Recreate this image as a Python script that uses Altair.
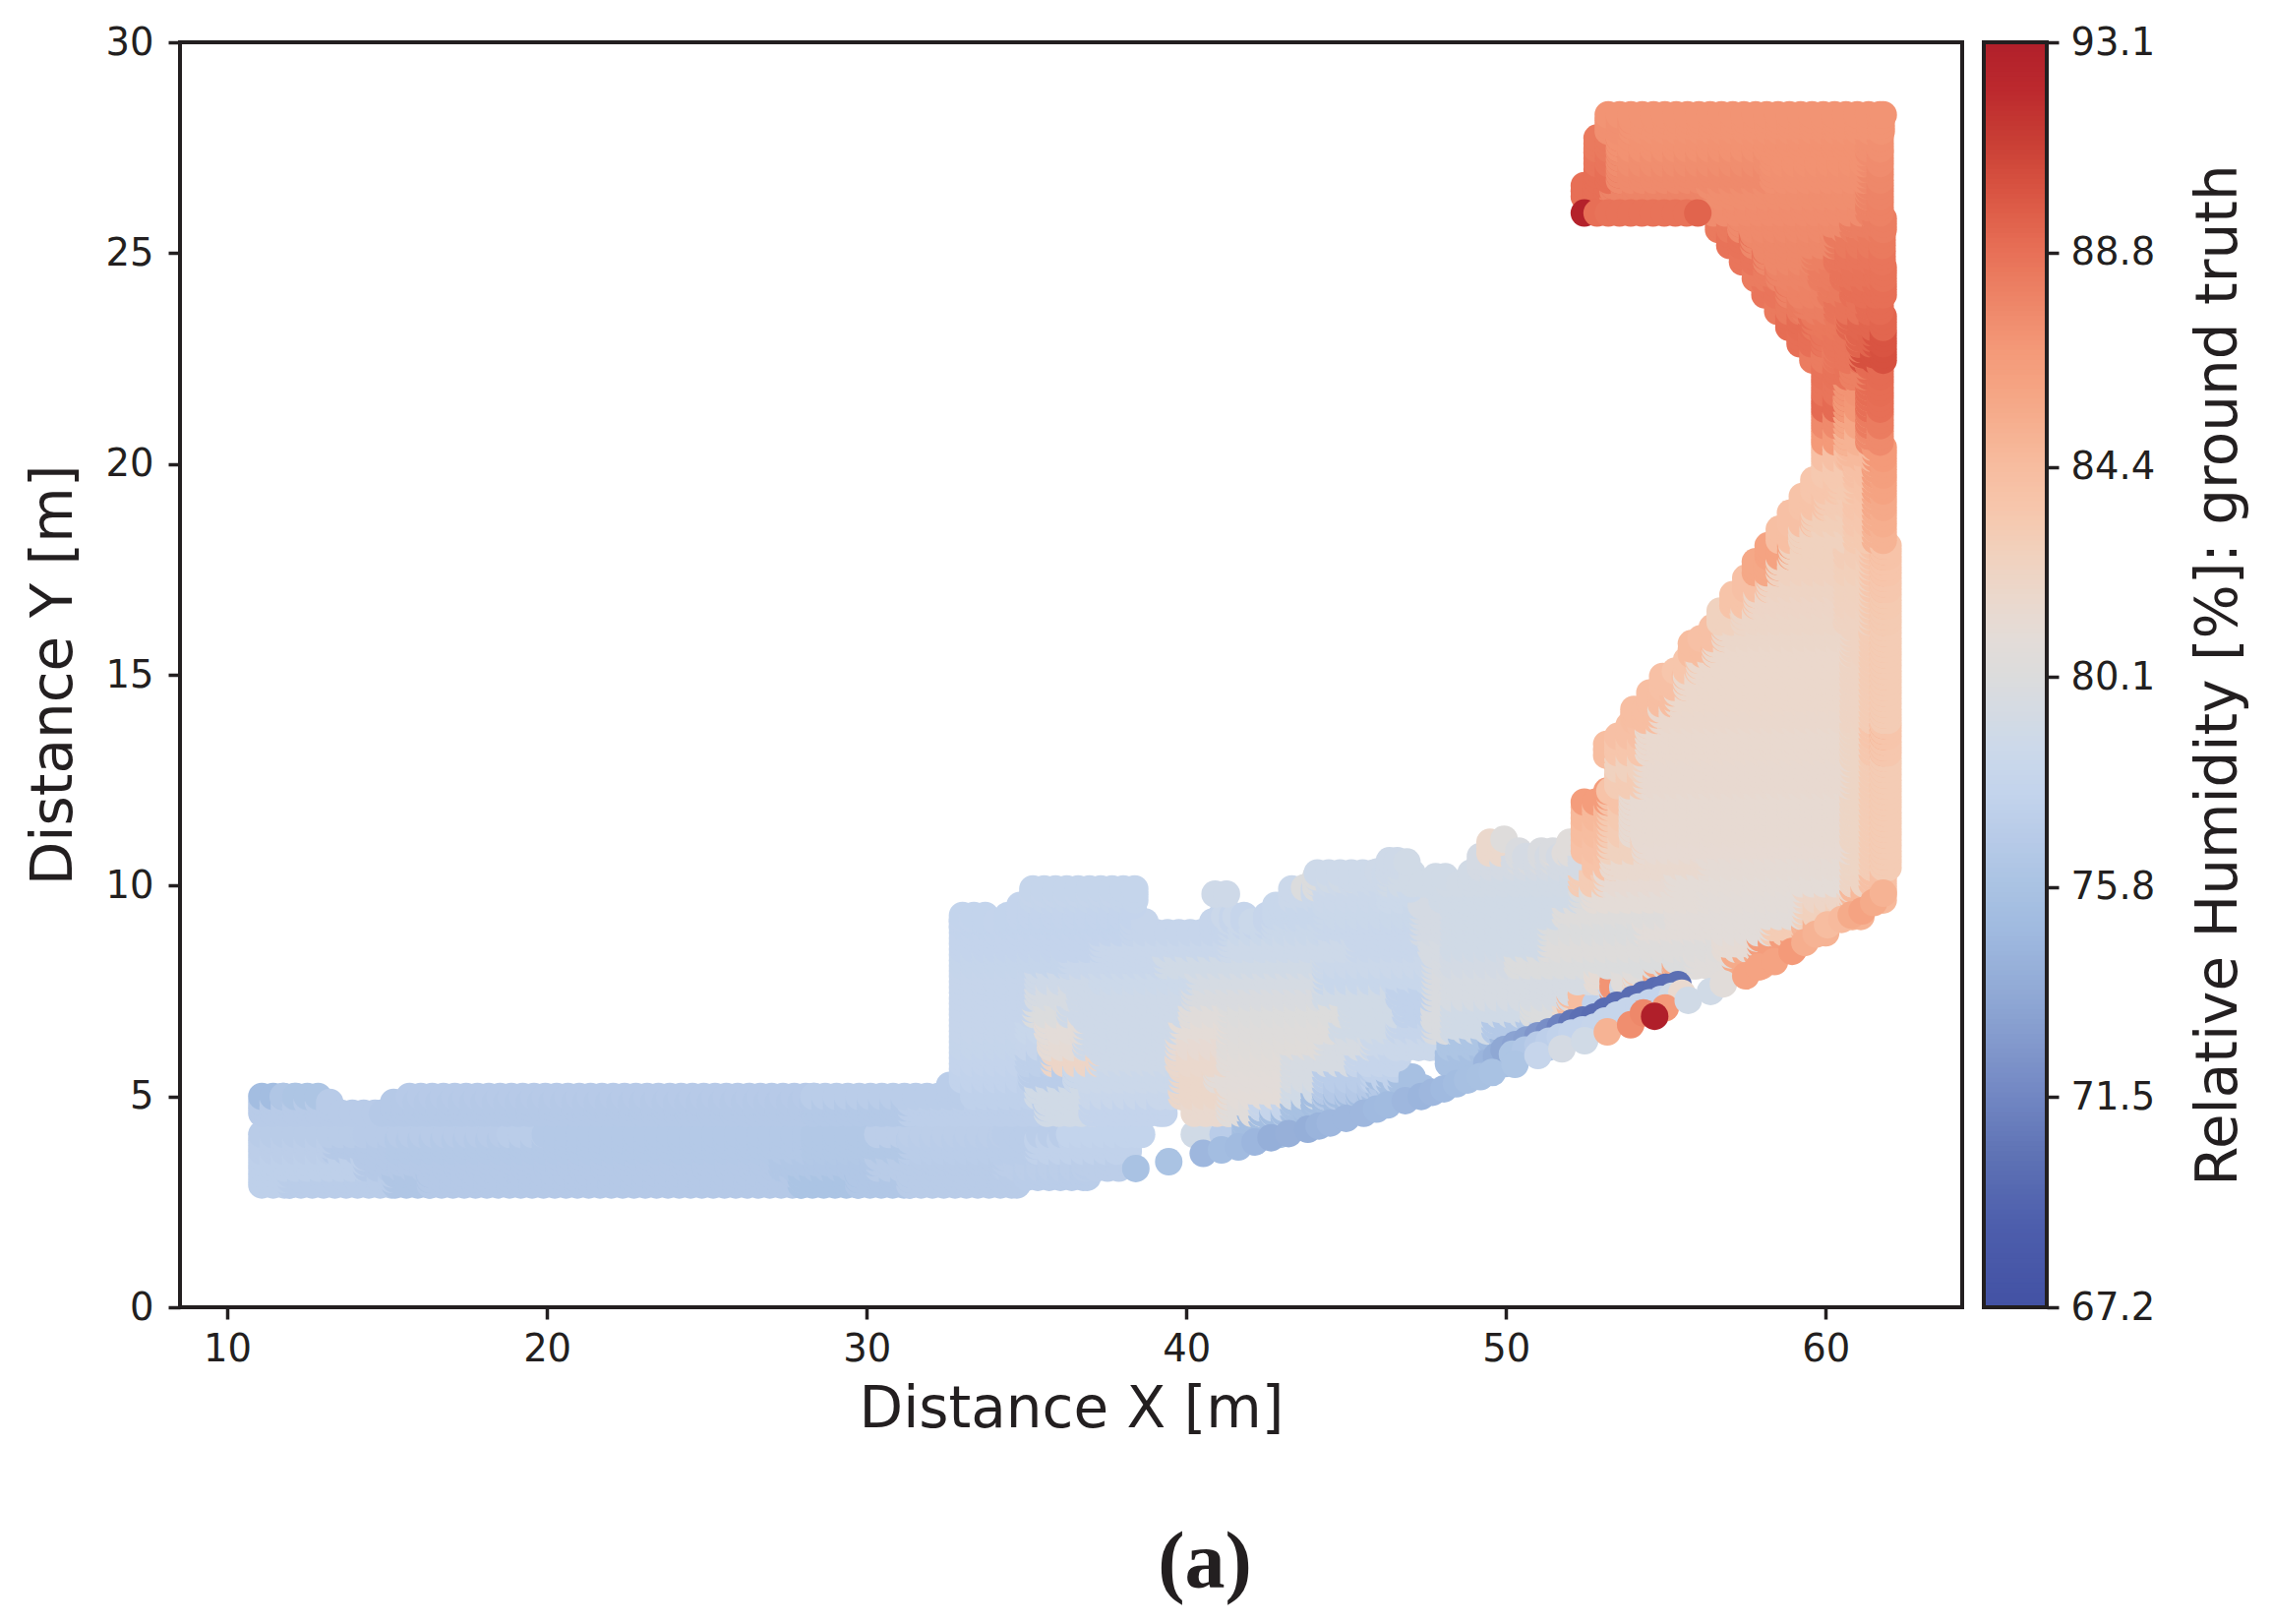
import altair as alt
import pandas as pd

alt.data_transformers.disable_max_rows()

X_STEP = 0.354
Y_SUB = 0.13
RUN_SHIFT = 0.35
INK = "#231f20"
FONT = "DejaVu Sans"

# colour ramp sampled from the reference colourbar
RAMP_VALUES = [67.2, 68.8, 70.3, 71.5, 72.5, 73.7, 74.9, 75.8, 76.8, 77.6, 78.6, 80.1, 80.8, 81.5,
               82.6, 83.5, 84.4, 85.8, 86.7, 87.5, 88.8, 90.0, 91.0, 92.0, 93.1]
RAMP_COLORS = ["#4352a4", "#4d5eac", "#5f73b5", "#7287c3", "#8298cc", "#92abd6", "#a0bae0", "#aac3e3",
               "#b8cbe8", "#c2d3ec", "#ccd9ea", "#dcdcdc", "#e3dcd8", "#e9d9cf", "#f1d1bd", "#f7c6ac",
               "#f7bc9f", "#f5a685", "#f49a79", "#ef8a6c", "#e76f56", "#d95442", "#c93f35", "#bd2a2e", "#b01f2a"]
CB_TICKS = [67.2, 71.5, 75.8, 80.1, 84.4, 88.8, 93.1]
X_TICKS = [10, 20, 30, 40, 50, 60]
Y_TICKS = [0, 5, 10, 15, 20, 25, 30]

# each row: y, then runs of (first x, last x, relative humidity)
ROWS = [
 (2.9, [(11.08,11.6,77.3),(11.6,14.8,77.0),(14.9,16,76.2),(16,27.6,76.6),(27.6,29.4,75.9),(29.4,31,76.3),(31,34.7,76.9)]),
 (3.08, [(35,36.9,77.0)]),
 (3.3, [(11.08,14,77.3),(14,27,76.6),(27,30,76.3),(30,34,76.9),(34,37.9,77.1)]),
 (3.7, [(11.08,13,77.1),(13,15,76.6),(15,28,76.5),(28,31,76.4),(31,35,77.0),(35,38.2,77.5)]),
 (4.1, [(11.08,14,76.9),(14,18.5,76.8),(18.5,19.6,77),(19.6,28,76.5),(28,30,76.4),(30,34,77.1),(34,36,77.0),(36,38.6,77.7),(40.25,40.8,79),(40.8,41.5,77),(41.5,43,75.3)]),
 (4.35, [(42,44,75.3)]),
 (4.6, [(11.08,14.5,76.8),(14.5,28,76.6),(28,31,76.5),(31,35.3,77.2),(35.3,36.7,79.0),(36.7,39.3,77.8),(40.25,41,81.5),(41,42,80.5),(42,43,78),(43,44.5,75.6)]),
 (4.8, [(44,45.9,75.3)]),
 (5.0, [(11.08,11.4,75.2),(11.4,11.8,76.2),(11.8,12.84,76.0),(15.7,28,76.7),(28,32.6,77),(33,35,77.4),(35,36.7,79.0),(36.7,39.5,78.3),(39.5,41,81.8),(41,43,80.8),(43,44,79),(44,46,76.6),(46,46.8,76.5)]),
 (5.2, [(46,47.4,75.5)]),
 (5.39, [(33,34.8,77.6),(34.8,36.2,77),(36.2,39.5,78.5),(39.5,40.6,81.8),(40.6,43,80.7),(43,44,79.5),(44,45.5,77),(45.5,46.6,77.5)]),
 (5.78, [(33,34.7,77.8),(34.7,35.5,77.3),(35.5,37,82.0),(37,39.4,78.8),(39.4,41,81.6),(41,43,80.6),(43,45,79.5),(45,46.6,78),(48.2,50,75.5)]),
 (6.16, [(33,34.7,77.9),(34.7,35.4,78),(35.4,36.5,81.0),(36.5,39.4,78.8),(39.4,41,81.2),(41,44,80.4),(44,45.5,79.5),(45.5,47.5,78.5),(47.9,49.2,76),(49.2,50.6,75),(50.6,51.4,76.5)]),
 (6.55, [(33,34.7,78),(34.7,35.3,78.2),(35.3,36.5,80.8),(36.5,39.5,78.8),(39.5,41,80.9),(41,44.5,80.3),(44.5,46.3,79),(46.3,47.3,78),(47.4,48,79.8),(48,49.3,79),(49.3,50.5,76.5),(50.8,52.2,78)]),
 (6.94, [(33,34.9,78),(34.9,36,80.0),(36,39.8,78.8),(39.8,41,80.5),(41,44.8,80.1),(44.8,46.5,79),(46.5,47.3,77.5),(47.4,48,79.8),(48,50.5,79),(50.5,51.5,80),(51.5,51.9,81.5),(52.1,53.3,77.5),(53.3,54,78)]),
 (7.15, [(52,52.8,84.3)]),
 (7.33, [(33,35,78),(35,36.3,79.5),(36.3,39.9,78.8),(39.9,44,79.8),(44,46.3,79),(46.3,47.3,77.5),(47.4,48,79.8),(48,52,79.5),(53.3,54.7,78.5)]),
 (7.46, [(53.35,53.35,87)]),
 (7.68, [(54.06,54.06,83)]),
 (7.72, [(33,35,78),(35,37,78.8),(37,40,78.6),(40,44,79.4),(44,47.3,78.2),(47.4,48,79.8),(48,52.5,79.5),(52.5,53,81),(53.7,54.3,80.5)]),
 (7.86, [(54.7,55.3,85.5)]),
 (8.10, [(33,36,77.9),(36,39,78.3),(39,44,79.0),(44,47.3,78.5),(47.4,48,79.6),(48,50,79.2),(50,55.5,80),(55.6,56.7,80.5),(56.8,58,85.5)]),
 (8.49, [(33,37,77.8),(37,41,78.3),(41,45,78.7),(45,47,78.3),(47.3,48,79.5),(48,51,79),(51,56.5,80.3),(56.5,57.5,81),(57.6,59,86.5)]),
 (8.88, [(33,38,77.8),(38,41,78),(41,44,78.4),(44,47,78.3),(47,48,79.3),(48,51,79),(51,54,80),(54,58,80.7),(58,59,83),(59,60,85)]),
 (9.03, [(33,38.4,77.7),(41.1,42.7,78)]),
 (9.21, [(33,33.3,77.8),(43,43.5,78.2)]),
 (9.27, [(34.8,38.4,77.8),(41.2,41.6,78.5),(42.8,44,78.2),(44,47,78.4),(47,48,79.3),(48,51.5,79),(51.5,55,80.3),(55,59,80.7),(59,60.5,82.6),(60.5,61.1,85)]),
 (9.66, [(35.2,38.4,77.9),(43.3,46,78.5),(46,47,78.6),(48,52,79),(52,52.4,80),(52.4,56,80.9),(56,59,80.8),(59,60.5,82),(60.5,61.8,84.6)]),
 (9.8, [(35.2,38,78),(40.9,41.3,78.8)]),
 (9.95, [(43.7,44.1,80),(47.8,48.1,79)]),
 (10.04, [(44.1,46,78.7),(46,47.4,79),(48.2,52,79.1),(52,52.8,83),(52.8,55,81.2),(55,60.5,80.9),(60.5,61.1,82.2),(61.1,61.8,84)]),
 (10.14, [(44.5,45.2,79)]),
 (10.33, [(46,46.6,78.8)]),
 (10.43, [(49.2,52,79.3),(52.45,53,83.8),(53,56,81.5),(56,60.5,81),(60.5,61.1,82.1),(61.1,61.6,83),(61.6,61.8,83.9)]),
 (10.56, [(46.9,47,79),(50.4,51.5,79.8)]),
 (10.77, [(49.5,49.94,81.7),(51.5,52,80.5)]),
 (10.82, [(52.45,52.9,84.0),(52.9,54,82.5),(54,60.5,81.2),(60.5,61.1,82.1),(61.1,61.6,83),(61.6,61.8,83.9)]),
 (11.1, [(49.94,49.94,80.3)]),
 (11.21, [(52.45,52.9,84.3),(52.9,53.6,83),(53.6,60.5,81.3),(60.5,61.1,82.1),(61.1,61.6,83),(61.6,61.8,83.9)]),
 (11.60, [(52.45,52.9,84.6),(52.9,53.6,83.2),(53.6,60.5,81.3),(60.5,61.1,82.1),(61.1,61.6,83),(61.6,61.8,83.9)]),
 (11.98, [(52.45,52.9,86.5),(52.9,53.6,83.8),(53.6,60.5,81.3),(60.5,61.1,82.1),(61.1,61.6,83),(61.6,61.8,83.9)]),
 (12.37, [(53.5,54,83),(54,60.5,81.4),(60.5,61.1,82.1),(61.1,61.6,83),(61.6,61.8,83.9)]),
 (12.76, [(53.5,54,82.5),(54,60.5,81.4),(60.5,61.1,82.1),(61.1,61.6,83),(61.6,61.8,84)]),
 (13.09, [(53.15,53.15,84.3)]),
 (13.15, [(53.5,54.1,83.5),(54.1,60.5,81.5),(60.5,61.1,82.1),(61.1,61.6,83.4),(61.6,61.8,85)]),
 (13.54, [(53.5,54.1,84),(54.1,60.5,81.5),(60.5,61.1,82.1),(61.1,61.6,83.6),(61.6,61.8,85.8)]),
 (13.92, [(54,54.5,84.2),(54.5,60.5,81.6),(60.5,61.1,82.2),(61.1,61.6,83),(61.6,61.8,84.2)]),
 (14.31, [(54.5,55,84.2),(55,60.5,81.7),(60.5,61.1,82.2),(61.1,61.6,83),(61.6,61.8,83.9)]),
 (14.70, [(54.9,55.3,84),(55.3,60.5,81.7),(60.5,61.1,82.2),(61.1,61.6,83),(61.6,61.8,83.9)]),
 (15.09, [(55.3,55.7,83.5),(55.7,60.5,81.7),(60.5,61.1,82.2),(61.1,61.6,83),(61.6,61.8,83.9)]),
 (15.48, [(55.8,56.2,84.3),(56.2,60.5,81.7),(60.5,61.1,82.3),(61.1,61.6,83),(61.6,61.8,83.9)]),
 (15.86, [(56.1,56.5,84),(56.5,60.5,81.8),(60.5,61.1,82.3),(61.1,61.6,83),(61.6,61.8,83.9)]),
 (16.25, [(56.7,57.1,82.5),(57.1,60.3,81.9),(60.3,61.1,82.3),(61.1,61.6,83.1),(61.6,61.8,84)]),
 (16.64, [(57.1,57.5,83.7),(57.5,60.3,82),(60.3,61.1,82.4),(61.1,61.6,83.2),(61.6,61.8,84.1)]),
 (17.03, [(57.5,57.9,84),(57.9,60.3,82.2),(60.3,61.1,82.5),(61.1,61.6,83.4),(61.6,61.8,84.3)]),
 (17.42, [(57.8,58.2,85.7),(58.2,60.3,82.4),(60.3,61.1,82.7),(61.1,61.6,83.6),(61.6,61.8,84.6)]),
 (17.80, [(58.2,58.6,86),(58.6,60.3,82.5),(60.3,61.1,82.9),(61.1,61.6,83.8),(61.6,61.8,84.9)]),
 (18.19, [(58.55,58.9,84.1),(58.9,60.6,82.5),(60.6,61.2,83.2),(61.2,61.8,85)]),
 (18.58, [(58.9,59.3,84),(59.3,60.6,82.8),(60.6,61.2,83.4),(61.2,61.8,85.3)]),
 (18.97, [(59.27,59.7,83.8),(59.7,60.6,83),(60.6,61.2,83.6),(61.2,61.8,85.6)]),
 (19.36, [(59.63,60.1,83.5),(60.1,60.6,83.2),(60.6,61.2,83.8),(61.2,61.8,86)]),
 (19.74, [(59.97,60.6,83.3),(60.6,61.2,84),(61.2,61.8,86.3)]),
 (20.13, [(59.97,60.4,84),(60.4,61.2,84.5),(61.2,61.8,86.7)]),
 (20.52, [(59.97,60.3,86.7),(60.3,61,85),(61,61.8,87.5)]),
 (20.91, [(59.97,60.3,87.5),(60.3,61,85.8),(61,61.8,88.2)]),
 (21.30, [(59.97,60.3,89),(60.3,61,86.8),(61,61.8,88.8)]),
 (21.68, [(59.97,60.3,88.5),(60.3,61,87),(61,61.8,88.9)]),
 (22.07, [(59.97,60.5,88.6),(60.5,61,88),(61,61.8,89)]),
 (22.46, [(59.6,60,88.2),(60,60.8,88.5),(60.8,61.8,90.2)]),
 (22.85, [(59.2,59.6,88.8),(59.6,60.7,88.5),(60.7,61.2,89.3),(61.2,61.8,90.0)]),
 (23.24, [(58.85,59.3,88.9),(59.3,60.4,88.4),(60.4,61.8,89.2)]),
 (23.62, [(58.5,59,88.3),(59,60,88.1),(60,61,88.6),(61,61.8,89.0)]),
 (24.01, [(58.1,58.5,88.5),(58.5,59.8,87.9),(59.8,60.5,88.3),(60.5,61.8,88.8)]),
 (24.40, [(57.8,58.2,88.2),(58.2,59.5,87.8),(59.5,60.2,88.2),(60.2,61.8,88.6)]),
 (24.79, [(57.4,57.8,88.5),(57.8,59.3,87.6),(59.3,60,88.0),(60,61.8,88.5)]),
 (25.18, [(57,57.4,88.6),(57.4,60,87.6),(60,61.8,88.3)]),
 (25.56, [(56.65,57,88.3),(57,60.5,87.5),(60.5,61.8,88.1)]),
 (25.95, [(56.5,61,87.4),(61,61.8,87.9)]),
 (26.34, [(52.45,53,88.8),(53,56,87.8),(56,61,87.3),(61,61.8,87.8)]),
 (26.73, [(52.85,53.2,88.8),(53.2,58,87.5),(58,61,87.2),(61,61.8,87.6)]),
 (27.12, [(52.85,53.2,88.5),(53.2,58,87.3),(58,61,87.1),(61,61.8,87.4)]),
 (27.47, [(52.85,53.2,88.3),(53.2,61,87.1),(61,61.8,87.2)]),
 (27.89, [(53.2,53.6,87.2),(53.6,61.8,87)]),
 (28.28, [(53.2,61.8,87)]),
]

# the dark blue streak: x, y, humidity
STREAK = [
 (49.4,5.79,74.5),(49.7,5.95,74.0),(49.94,6.11,73.5),(50.3,6.23,73.2),(50.65,6.34,73.0),(51.0,6.44,72.4),
 (51.35,6.53,71.9),(51.7,6.64,71.2),(52.06,6.74,70.5),(52.4,6.81,70.1),(52.77,6.88,69.8),(53.1,7.02,69.8),
 (53.47,7.16,69.8),(53.97,7.30,69.8),(54.3,7.41,69.8),(54.68,7.51,69.8),(55.0,7.59,69.9),(55.38,7.65,70.0),
]

# pale markers just under the streak
UNDER_STREAK = [
 (50.2,6.0,76.0),(50.6,6.1,76.3),(51.0,6.22,76.8),(51.35,6.31,77.2),(51.7,6.41,77.5),(52.06,6.5,77.8),
 (52.4,6.58,77.8),(52.77,6.64,78.0),(53.1,6.79,78.0),(53.47,6.93,78.0),(53.8,7.03,78.0),(54.15,7.12,78.0),
 (54.5,7.22,77.8),(54.85,7.3,77.8),(55.2,7.38,79.0),(55.5,7.45,81.5),
]

# single markers along the lower curved edge
CURVE = [
 (38.42,3.29,75.7),(39.45,3.45,75.8),(40.53,3.65,74.7),(41.1,3.73,75.2),(41.63,3.80,75.0),(42.15,3.92,74.6),(42.65,4.02,74.0),(43.2,4.12,74.1),(43.8,4.22,74.0),
 (44.15,4.3,74.4),(44.5,4.37,74.7),(45.0,4.48,74.7),(45.55,4.6,74.7),(45.95,4.7,74.9),(46.3,4.8,75.0),(46.85,4.9,74.7),(47.35,5.0,74.5),(47.7,5.1,74.7),(48.06,5.18,74.9),(48.45,5.3,75.2),(48.8,5.39,75.5),(49.2,5.47,75.6),
 (49.57,5.57,75.7),(50.28,5.76,76.0),(51.0,5.97,78.0),(51.75,6.13,79.3),(52.46,6.32,79.0),(53.17,6.53,85.0),
 (53.9,6.7,87.3),(54.3,6.98,87.6),(54.98,7.1,86.7),(55.7,7.28,79.0),(56.4,7.49,79.0),(56.8,7.67,80.6),
 (57.5,7.86,86.0),(57.9,8.07,86.0),(58.4,8.2,86.0),(58.95,8.44,86.7),(59.35,8.65,85.3),(59.7,8.85,85.0),(60.06,9.07,84.3),(60.5,9.2,84.5),(60.8,9.3,85.5),(61.14,9.4,86.0),(61.5,9.6,85.5),(61.8,9.82,85.0),
]

# markers painted over their neighbours
TOP = [
 (52.45,25.95,92.8),(52.85,25.95,88.8),(53.2,25.95,88.6),(53.55,25.95,88.6),(53.9,25.95,88.6),(54.25,25.95,88.6),
 (54.6,25.95,88.6),(54.95,25.95,88.6),(55.3,25.95,88.6),(55.65,25.95,88.6),(56.0,25.95,89.3),(54.65,6.9,93.1),
]


def expand_rows(rows):
    # a later marker hides about a radius of the run before it, so run borders sit a step to the right
    out = []
    for y, runs in rows:
        for i, (x0, x1, v) in enumerate(runs):
            after = i + 1 < len(runs) and runs[i + 1][0] - x1 < 0.5
            before = i > 0 and x0 - runs[i - 1][1] < 0.5
            lo = min(x0 + RUN_SHIFT, x1) if before else x0
            hi = x1 + RUN_SHIFT if after else x1
            x = lo
            while x <= hi + 1e-6:
                out.append((x, y, v))
                x += X_STEP
            if x - X_STEP < hi - 0.1:
                out.append((hi, y, v))
    return out


def fill_between(points):
    # the source grid is finer in y than the read rows: repeat a read cell upward where another row lies above it
    cells = {}
    for x, y, v in points:
        cells.setdefault(round(x / X_STEP), []).append(y)
    out = list(points)
    for x, y, v in points:
        c = round(x / X_STEP)
        above = [yy for k in (c - 1, c, c + 1) for yy in cells.get(k, []) if y < yy <= y + 0.45]
        if above:
            out.append((x, y + Y_SUB, v))
            out.append((x, y + 2 * Y_SUB, v))
    return out


body = fill_between(expand_rows(ROWS))
body.sort(key=lambda p: p[0] + 1.3 * p[1])
points = body + STREAK + UNDER_STREAK + CURVE + TOP
df = pd.DataFrame(points, columns=["x", "y", "rh"])

color_scale = alt.Scale(domain=RAMP_VALUES, range=RAMP_COLORS)

scatter = alt.Chart(df).mark_circle(size=784, opacity=1).encode(
    x=alt.X("x:Q", title="Distance X [m]",
            scale=alt.Scale(domain=[8.52, 64.27], nice=False, zero=False),
            axis=alt.Axis(values=X_TICKS, grid=False, titlePadding=14)),
    y=alt.Y("y:Q", title="Distance Y [m]",
            scale=alt.Scale(domain=[0, 30], nice=False),
            axis=alt.Axis(values=Y_TICKS, grid=False, titlePadding=23, labelPadding=15)),
    color=alt.Color("rh:Q", scale=color_scale, legend=None),
)

caption = alt.Chart(pd.DataFrame({"label": ["(a)"]})).mark_text(
    font="Liberation Serif", fontSize=82, fontWeight="bold", color=INK, align="center", baseline="middle"
).encode(x=alt.value(1042), y=alt.value(1546), text="label:N")

main = alt.layer(scatter, caption).properties(width=1812, height=1286)

cb_levels = [RAMP_VALUES[0] + i * 0.1 for i in range(259)]
cb_df = pd.DataFrame({"lo": cb_levels, "hi": [min(v + 0.16, RAMP_VALUES[-1]) for v in cb_levels]})

cb_bar = alt.Chart(cb_df).mark_rect().encode(
    x=alt.value(0), x2=alt.value(64),
    y=alt.Y("lo:Q", title="Relative Humidity [%]: ground truth",
            scale=alt.Scale(domain=[RAMP_VALUES[0], RAMP_VALUES[-1]], nice=False, zero=False),
            axis=alt.Axis(orient="right", values=CB_TICKS, format=".1f", grid=False, titlePadding=95, titleAngle=270)),
    y2="hi:Q",
    color=alt.Color("lo:Q", scale=color_scale, legend=None),
)
cb_frame = alt.Chart(pd.DataFrame({"f": [0]})).mark_rect(filled=False, stroke=INK, strokeWidth=4).encode(
    x=alt.value(0), x2=alt.value(64), y=alt.value(0), y2=alt.value(1286)
)
colorbar = alt.layer(cb_bar, cb_frame).properties(width=64, height=1286)

chart = alt.hconcat(main, colorbar, spacing=16).properties(
    padding={"left": 16, "top": 14, "right": 5, "bottom": 5}, background="white"
).configure_view(stroke=INK, strokeWidth=4).configure_axis(
    domain=False, ticks=True, tickColor=INK, tickWidth=3.5, tickSize=12,
    labelFont=FONT, titleFont=FONT, labelFontSize=38.5, titleFontSize=58,
    labelColor=INK, titleColor=INK, titleFontWeight="normal", labelPadding=12,
)

chart.save("out.html", embed_options={"renderer": "svg", "actions": False})
